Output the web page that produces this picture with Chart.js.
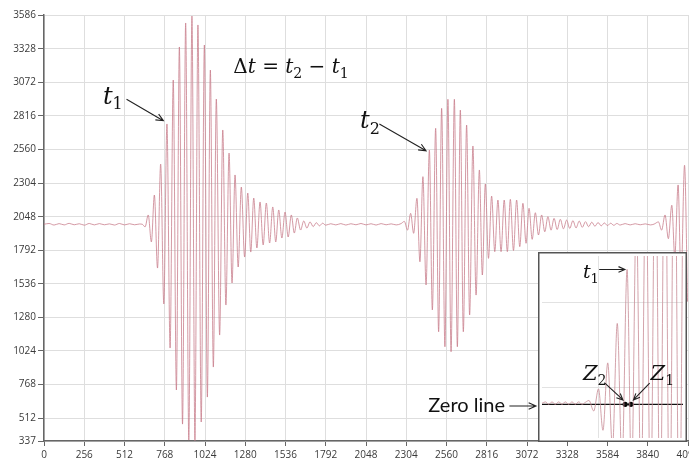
<!DOCTYPE html>
<html>
<head>
<meta charset="utf-8">
<script src="https://cdn.jsdelivr.net/npm/chart.js@4.4.1/dist/chart.umd.min.js"></script>
<style>
html, body { margin: 0; padding: 0; background: #fff; overflow: hidden; width: 689px; height: 460px; }
#wrap { position: relative; width: 708px; height: 460px; }
#main { position: absolute; left: 0; top: 0; width: 708px; height: 460px; }
#inset { position: absolute; left: 538px; top: 252px; width: 149px; height: 190px; background: #fff; }
</style>
</head>
<body>
<div id="wrap">
  <canvas id="main" width="708" height="460"></canvas>
  <canvas id="inset" width="149" height="190"></canvas>
</div>
<script>
// Axis ticks
const xTicks = [0, 256, 512, 768, 1024, 1280, 1536, 1792, 2048, 2304, 2560, 2816, 3072, 3328, 3584, 3840, 4096];
const yTicks = [337, 512, 768, 1024, 1280, 1536, 1792, 2048, 2304, 2560, 2816, 3072, 3328, 3586];

// Signal as [sample, level] pairs (peaks and troughs)
const baselineA = [[0,1990],[32,1996],[64,1984],[96,1995],[128,1985],[160,1997],[192,1986],[224,1994],[256,1983],[288,1996],
  [320,1985],[352,1995],[384,1986],[416,1993],[448,1984],[480,1996],[512,1985],[544,1994],[576,1986],[608,1992]];
const burst1 = [[625,1990],[643,1970],[663,2061],[683,1855],[702,2213],[722,1656],[742,2449],[762,1382],[782,2755],[802,1046],
  [822,3090],[842,726],[861,3342],[881,466],[901,3525],[921,344],[941,3578],[960,340],[979,3510],[1000,482],
  [1020,3357],[1039,672],[1058,3166],[1077,901],[1096,2945],[1117,1145],[1137,2709],[1157,1374],[1177,2533],[1196,1542],
  [1215,2366],[1235,1664],[1255,2274],[1276,1740],[1296,2228],[1315,1778],[1334,2190],[1354,1809],[1374,2160],[1394,1832],
  [1414,2152],[1435,1847],[1455,2122],[1474,1855],[1493,2099],[1513,1885],[1533,2083],[1553,1893],[1573,2061],[1592,1923],
  [1611,2038],[1632,1946],[1652,2015],[1672,1961],[1692,2008],[1712,1972],[1732,2002],[1752,1978],[1772,1998],[1792,1983]];
const baselineB = [[1824,1994],[1856,1985],[1888,1995],[1920,1984],[1952,1994],[1984,1986],[2016,1996],[2048,1985],
  [2080,1994],[2112,1984],[2144,1995],[2176,1986],[2208,1993],[2240,1985],[2271,1995]];
const burst2 = [[2292,2012],[2312,1945],[2332,2073],[2351,1921],[2372,2188],[2391,1704],[2410,2353],[2430,1527],[2451,2556],[2470,1336],
  [2491,2722],[2510,1170],[2529,2874],[2550,1056],[2569,2943],[2589,1018],[2610,2943],[2629,1056],[2648,2861],[2667,1170],
  [2688,2747],[2707,1298],[2728,2587],[2748,1450],[2769,2404],[2788,1603],[2807,2297],[2827,1730],[2847,2205],[2867,1781],
  [2887,2175],[2907,1781],[2927,2175],[2947,1781],[2966,2180],[2986,1790],[3006,2175],[3026,1819],[3046,2150],[3066,1845],
  [3085,2112],[3105,1875],[3125,2078],[3145,1908],[3165,2061],[3185,1933],[3205,2048],[3225,1945],[3244,2035],[3264,1950],
  [3284,2028],[3304,1955],[3324,2022],[3344,1958],[3364,2018],[3384,1962],[3404,2014],[3424,1967],[3444,2010],[3464,1971],
  [3484,2006],[3504,1975],[3524,2003],[3544,1978],[3564,2000],[3584,1980],[3604,1998],[3624,1982],[3644,1996],[3664,1984]];
const baselineC = [[3696,1995],[3728,1985],[3760,1994],[3792,1986],[3824,1993],[3856,1985],[3880,1991]];
const burst3 = [[3908,2008],[3928,1945],[3950,2061],[3971,1880],[3993,2135],[4012,1740],[4033,2290],[4052,1560],[4074,2440],[4093,1400]];

// Zoomed inset: [sample offset, level offset from the zero line]
const insetSignal = [[0,1],[3.5,2.5],[7,0],[10.5,2.5],[14,0],[17.5,2.5],[21,0],[24.5,2.5],[28,0],[31.5,2.5],[35,0],[38.5,2.5],
  [42,0],[45.5,2],[49.3,4],[54.3,-7],[59.3,16],[64,-27],[69,43],[74,-45],[79,84],[84,-62],[89.3,140],[94,-80],
  [99,200],[104,-100],[109,250],[114,-120],[119,300],[124,-140],[129,330],[134,-150],[139,360],[144,-160],[149,380]];
const zeroCrossings = [[87.3,0],[93.3,0]];
const insetXGrid = [59.3];
const insetYGrid = [17, 106];

const toPoints = arr => arr.map(([x, y]) => ({ x: x, y: y }));
const signal = toPoints([].concat(baselineA, burst1, baselineB, burst2, baselineC, burst3));

// Annotations (in data units)
const mainLabels = [
  { x: 375, y: 2910, size: 24, runs: [['t', 'i'], ['1', 'sub']] },
  { x: 2010, y: 2724, size: 24, runs: [['t', 'i'], ['2', 'sub']] },
  { x: 1204, y: 3141, size: 20, runs: [['Δ', 'n'], ['t', 'i'], [' = ', 'n'], ['t', 'i'], ['2', 'sub'], [' − ', 'n'], ['t', 'i'], ['1', 'sub']] },
  { x: 2444, y: 555, size: 20, runs: [['Zero line', 'sans']] }
];
const mainArrows = [[525, 2943, 759, 2780], [2133, 2755, 2430, 2551], [2960, 604, 3129, 604]];
const insetLabels = [
  { x: 43, y: 131, size: 19, runs: [['t', 'i'], ['1', 'sub']] },
  { x: 43, y: 25, size: 21, runs: [['Z', 'i'], ['2', 'sub']] },
  { x: 114, y: 25, size: 21, runs: [['Z', 'i'], ['1', 'sub']] }
];
const insetArrows = [[60, 140, 87, 140], [66, 22, 85, 4.5], [113, 22, 96, 4.5]];

function drawMath(ctx, px, py, size, runs) {
  let cx = px;
  runs.forEach(([txt, kind]) => {
    let dy = 0;
    if (kind === 'i') ctx.font = 'italic ' + size + 'px "DejaVu Serif"';
    else if (kind === 'sub') { ctx.font = Math.round(size * 0.68) + 'px "DejaVu Serif"'; dy = size * 0.24; }
    else if (kind === 'sans') ctx.font = size + 'px Lato';
    else ctx.font = size + 'px "DejaVu Serif"';
    ctx.fillText(txt, cx, py + dy);
    cx += ctx.measureText(txt).width;
  });
}

function drawArrow(ctx, x1, y1, x2, y2, h) {
  const a = Math.atan2(y2 - y1, x2 - x1);
  ctx.beginPath();
  ctx.moveTo(x1, y1);
  ctx.lineTo(x2, y2);
  ctx.moveTo(x2 - h * Math.cos(a - 0.42), y2 - h * Math.sin(a - 0.42));
  ctx.lineTo(x2, y2);
  ctx.lineTo(x2 - h * Math.cos(a + 0.42), y2 - h * Math.sin(a + 0.42));
  ctx.stroke();
}

function annotationPlugin(labels, arrows, head) {
  return {
    id: 'notes',
    afterDraw(chart) {
      const ctx = chart.ctx, xs = chart.scales.x, ys = chart.scales.y;
      ctx.save();
      ctx.fillStyle = '#111';
      ctx.strokeStyle = '#222';
      ctx.lineWidth = 1.1;
      ctx.textBaseline = 'alphabetic';
      labels.forEach(l => drawMath(ctx, xs.getPixelForValue(l.x), ys.getPixelForValue(l.y), l.size, l.runs));
      arrows.forEach(a => drawArrow(ctx, xs.getPixelForValue(a[0]), ys.getPixelForValue(a[1]),
        xs.getPixelForValue(a[2]), ys.getPixelForValue(a[3]), head));
      ctx.restore();
    }
  };
}

const tickFont = { family: 'Open Sans', size: 10 };

new Chart(document.getElementById('main'), {
  type: 'line',
  data: {
    datasets: [{
      data: signal,
      borderColor: 'rgba(200, 124, 138, 0.78)',
      borderWidth: 1,
      pointRadius: 0,
      cubicInterpolationMode: 'monotone'
    }]
  },
  options: {
    responsive: false,
    animation: false,
    layout: { padding: { top: 15, right: 20, left: 0, bottom: 0 } },
    plugins: { legend: { display: false }, tooltip: { enabled: false } },
    scales: {
      x: {
        type: 'linear', min: 0, max: 4096,
        afterBuildTicks: s => { s.ticks = xTicks.map(v => ({ value: v })); },
        afterFit: s => { s.height = 19; },
        grid: { color: '#dedede', tickColor: '#666', tickLength: 5 },
        border: { color: '#666', width: 1.5 },
        ticks: { color: '#3a3a3a', font: tickFont, padding: 3, maxRotation: 0, autoSkip: false, callback: v => String(v) }
      },
      y: {
        type: 'linear', min: 337, max: 3586,
        afterBuildTicks: s => { s.ticks = yTicks.map(v => ({ value: v })); },
        afterFit: s => { s.width = 44; },
        grid: { color: '#dedede', tickColor: '#666', tickLength: 6 },
        border: { color: '#666', width: 1.5 },
        ticks: { color: '#3a3a3a', font: tickFont, padding: 2, autoSkip: false, callback: v => String(v) }
      }
    }
  },
  plugins: [annotationPlugin(mainLabels, mainArrows, 8)]
});

const insetFrame = {
  id: 'frame',
  afterDraw(chart) {
    const ctx = chart.ctx;
    ctx.save();
    ctx.strokeStyle = '#555';
    ctx.lineWidth = 1.5;
    ctx.strokeRect(0.75, 0.75, chart.width - 1.5, chart.height - 1.5);
    ctx.restore();
  }
};

new Chart(document.getElementById('inset'), {
  type: 'line',
  data: {
    datasets: [
      { data: toPoints(insetSignal), borderColor: 'rgba(200, 140, 150, 0.8)', borderWidth: 1, pointRadius: 0, cubicInterpolationMode: 'monotone' },
      { data: toPoints([[0, 0], [148, 0]]), borderColor: '#111', borderWidth: 1.3, pointRadius: 0 },
      { data: toPoints(zeroCrossings), showLine: false, pointRadius: 2.6, pointBackgroundColor: '#000', pointBorderWidth: 0 }
    ]
  },
  options: {
    responsive: false,
    animation: false,
    layout: { padding: 0 },
    plugins: { legend: { display: false }, tooltip: { enabled: false } },
    scales: {
      x: {
        type: 'linear', min: 0, max: 148,
        afterBuildTicks: s => { s.ticks = insetXGrid.map(v => ({ value: v })); },
        grid: { color: '#e2e2e2', drawTicks: false },
        border: { display: false },
        ticks: { display: false }
      },
      y: {
        type: 'linear', min: -35, max: 154,
        afterBuildTicks: s => { s.ticks = insetYGrid.map(v => ({ value: v })); },
        grid: { color: '#e2e2e2', drawTicks: false },
        border: { display: false },
        ticks: { display: false }
      }
    }
  },
  plugins: [insetFrame, annotationPlugin(insetLabels, insetArrows, 7)]
});
</script>
</body>
</html>
